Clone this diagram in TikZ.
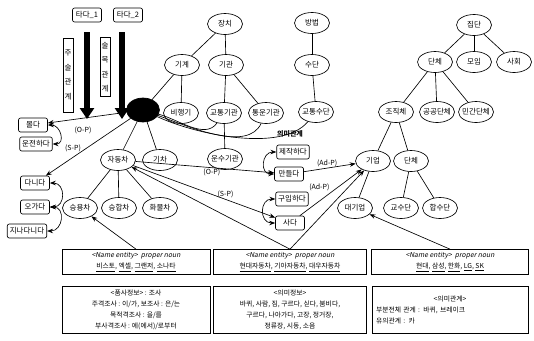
\documentclass[tikz,border=0pt]{standalone}
\usepackage{fontspec}
\newfontfamily\krfont{Noto Sans CJK KR}
\newfontfamily\krslant[FakeSlant=0.2]{Noto Sans CJK KR}
\usetikzlibrary{arrows.meta,positioning,shapes.geometric}

\begin{document}
\begin{tikzpicture}[x=1pt,y=-1pt,>=Stealth,line width=.65pt,
  font=\krfont\fontsize{7.5}{8.5}\selectfont,
  ell/.style={ellipse,draw,inner xsep=-4pt,inner ysep=0pt,minimum width=35pt,minimum height=21pt},
  verbbox/.style={draw,rounded corners=2pt,inner xsep=2.5pt,inner ysep=1.5pt,minimum width=29pt,minimum height=14pt},
  infobox/.style={draw,align=center,inner sep=1pt,font=\krfont\fontsize{6.8}{11}\selectfont},
  relbox/.style={draw,inner sep=1.5pt,align=center,font=\krfont\fontsize{7.5}{14.5}\selectfont},
  rl/.style={font=\krfont\fontsize{7}{8}\selectfont,inner sep=1pt},
  fat/.style={line width=6pt,-{Triangle[width=14pt,length=11pt]}},
  syn/.style={<->,looseness=1.7}]
\useasboundingbox (0,0) rectangle (534,340);
% verbs and relation types
\node[verbbox] (tada1) at (87,15) {타다\_1};
\node[verbbox] (tada2) at (128,15) {타다\_2};
\node[relbox,minimum height=74pt] (jusul) at (68,75) {주\\술\\관\\계};
\node[relbox,minimum height=59pt] (sulmok) at (105,67) {술\\목\\관\\계};
\coordinate (f1) at (87,32); \coordinate (f1e) at (87,119);
\coordinate (f2) at (122,32); \coordinate (f2e) at (122,119);
\draw[fat] (f1) -- (f1e);
\draw[fat] (f2) -- (f2e);
% concept hierarchy
\node[ell] (jangchi) at (225,24) {장치};
\node[ell] (bangbeop) at (312,23) {방법};
\node[ell] (jipdan) at (474,25) {집단};
\node[ell] (gigye) at (182,65) {기계};
\node[ell] (gigwan) at (226,65) {기관};
\node[ell] (sudan) at (312,65) {수단};
\node[ell] (danche) at (435,62) {단체};
\node[ell] (moim) at (474,62) {모임};
\node[ell] (sahoe) at (514,62) {사회};
\node[ell] (bihaeng) at (181,113) {비행기};
\node[ell] (gyotong) at (224,113) {교통기관};
\node[ell] (tongun) at (266,113) {통운기관};
\node[ell] (gtsudan) at (316,112) {교통수단};
\node[ell] (jojik) at (396,112) {조직체};
\node[ell] (gonggong) at (437,112) {공공단체};
\node[ell] (mingan) at (476,112) {민간단체};
\node[ell,fill=black,minimum width=33pt,minimum height=24pt] (cha) at (143,110) {};
\node[ell] (jadong) at (118,160) {자동차};
\node[ell] (gicha) at (160,160) {기차};
\node[ell] (unsu) at (225,159) {운수기관};
\node[ell] (gieop) at (373,161) {기업};
\node[ell] (danche2) at (411,161) {단체};
\node[ell] (seungyong) at (80,208) {승용차};
\node[ell] (seunghap) at (119,208) {승합차};
\node[ell] (hwamul) at (160,208) {화물차};
\node[ell] (daegieop) at (355,208) {대기업};
\node[ell] (gyosu) at (401,208) {교수단};
\node[ell] (hapsu) at (440,208) {합수단};
% predicates
\node[verbbox] (molda) at (33,125) {몰다};
\node[verbbox] (unjeon) at (36,144) {운전하다};
\node[verbbox] (danida) at (35,183) {다니다};
\node[verbbox] (ogada) at (35,207) {오가다};
\node[verbbox] (jinada) at (27,231) {지나다니다};
\node[verbbox] (jejak) at (293,152) {제작하다};
\node[verbbox] (mandeul) at (289,174) {만들다};
\node[verbbox] (guip) at (292,199) {구입하다};
\node[verbbox] (sada) at (290,223) {사다};
% info boxes
\node[infobox,minimum width=148pt,minimum height=25pt] (ne1) at (136,262)
  {{\krslant <Name entity>\ \ proper noun}\\\underline{비스토}, \underline{엑셀}, \underline{그랜저}, \underline{소나타}};
\node[infobox,minimum width=153pt,minimum height=25pt] (ne2) at (290,262)
  {{\krslant <Name entity>\ \ proper noun}\\\underline{현대자동차}, \underline{기아자동차}, \underline{대우자동차}};
\node[infobox,minimum width=157pt,minimum height=25pt] (ne3) at (450,262)
  {{\krslant <Name entity>\ \ proper noun}\\\underline{현대}, \underline{삼성}, \underline{한화}, \underline{LG}, \underline{SK}};
\node[infobox,minimum width=148pt,minimum height=47pt] (pos) at (136,310)
  {<품사정보> : 조사\\주격조사 : 이/가, 보조사 : 은/는\\목적격조사 : 을/를\\부사격조사 : 에(에서)/로부터};
\node[infobox,minimum width=153pt,minimum height=47pt] (sem) at (290,310)
  {<의미정보>\\바퀴, 사람, 짐, 구르다, 싣다, 붐비다,\\구르다, 나아가다, 고장, 정거장,\\정류장, 시동, 소음};
\node[infobox,align=left,text width=148pt,inner xsep=4pt,minimum height=47pt] (semrel) at (450,310)
  {\makebox[\linewidth]{<의미관계>}\\부분전체 관계 : 바퀴, 브레이크\\유의관계 : 카};
\node[rl,font=\krfont\bfseries\fontsize{7}{8}\selectfont] (semlbl) at (290,134) {의미관계};
\node[rl] (oplbl) at (83,130) {(O-P)};
\node[rl] (splbl) at (73,148) {(S-P)};
% tree edges
\draw (jangchi) -- (gigye); \draw (jangchi) -- (gigwan);
\draw (gigye) -- (bihaeng); \draw (gigye) -- (cha);
\draw (gigwan) -- (gyotong); \draw (gigwan) -- (tongun);
\draw (bangbeop) -- (sudan); \draw (sudan) -- (gtsudan);
\draw (gyotong) -- (unsu);
\draw (jipdan) -- (danche); \draw (jipdan) -- (moim); \draw (jipdan) -- (sahoe);
\draw (danche) -- (jojik); \draw (danche) -- (gonggong); \draw (danche) -- (mingan);
\draw (jojik) -- (gieop); \draw (jojik) -- (danche2);
\draw (gieop) -- (daegieop); \draw (danche2) -- (gyosu); \draw (danche2) -- (hapsu);
\draw (cha) -- (jadong); \draw (cha) -- (gicha);
\draw (jadong) -- (seungyong); \draw (jadong) -- (seunghap); \draw (jadong) -- (hwamul);
\draw (cha) to[out=-15,in=-125,looseness=.9] (gyotong);
\draw (cha) to[out=-20,in=-115,looseness=.8] (tongun);
\draw (cha) to[out=-25,in=-130,looseness=.7] (gtsudan);
% predicate links
\draw[->] (cha) -- (molda);
\draw[->] (cha) -- (danida);
\draw[->] (jadong) -- node[rl,below,pos=.55] {(O-P)} (mandeul);
\draw[->] (jadong) -- node[rl,above,pos=.65] {(S-P)} (sada);
\draw[->] (mandeul) -- node[rl,above,pos=.45] {(Ad-P)} (gieop);
\draw[->] (sada) -- node[rl,above left,pos=.5] {(Ad-P)} (gieop);
\draw[->] (ne2.north) -- (gieop);
\draw[->] (ne2.north) -- (jadong);
\draw[->] (ne1.north) -- (seungyong);
\draw[->] (ne3.north) -- (daegieop);
% synonyms
\draw[syn] (molda.east) to[out=0,in=0] (unjeon.east);
\draw[syn] (danida.east) to[out=0,in=0] (ogada.east);
\draw[syn] (ogada.east) to[out=0,in=0] (jinada.east);
\draw[syn] (jejak.west) to[out=180,in=180] (mandeul.west);
\draw[syn] (guip.west) to[out=180,in=180] (sada.west);
\end{tikzpicture}
\end{document}
